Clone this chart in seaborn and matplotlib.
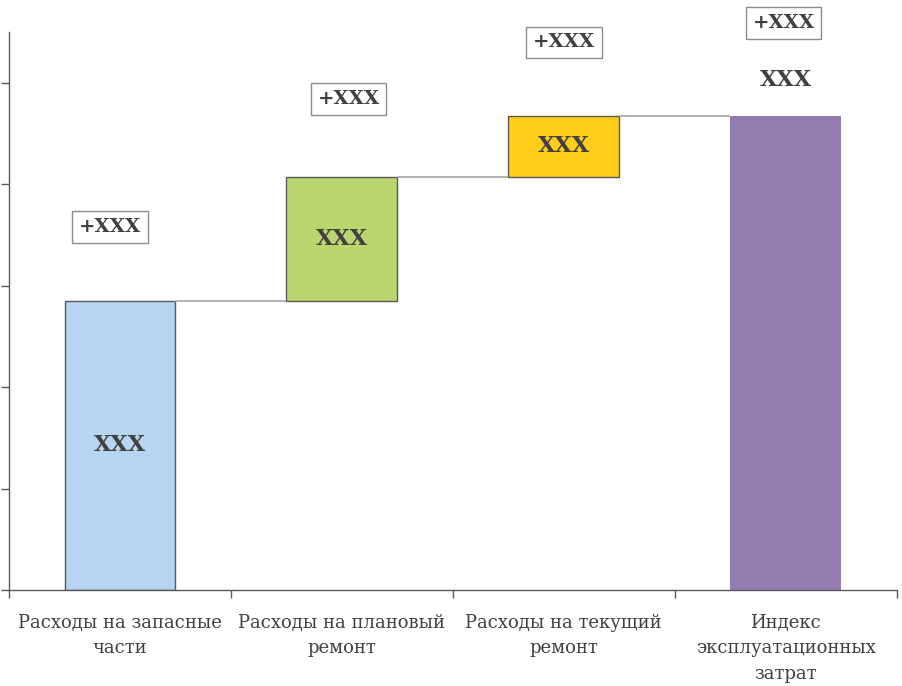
import matplotlib
matplotlib.use("Agg")
import matplotlib.pyplot as plt
import seaborn as sns
import pandas as pd

# categories and values (waterfall)
categories = ["Расходы на запасные\nчасти", "Расходы на плановый\nремонт",
              "Расходы на текущий\nремонт", "Индекс\nэксплуатационных\nзатрат"]
increments = [28.5, 12.25, 6.0, 46.75]
bottoms = [0.0, 28.5, 40.75, 0.0]
bar_labels = ["XXX", "XXX", "XXX", "XXX"]
delta_labels = ["+XXX", "+XXX", "+XXX", "+XXX"]
bar_colors = ["#b7d4f0", "#bcd66f", "#ffcc19", "#947cb0"]

sns.set_style("white")
plt.rcParams["font.family"] = ["DejaVu Serif"]

df = pd.DataFrame({"cat": categories, "val": increments})

fig = plt.figure(figsize=(9.03, 6.86), dpi=100)
ax = fig.add_axes([0.01, 0.14, 0.983, 0.813])

sns.barplot(data=df, x="cat", y="val", color=bar_colors[0], width=0.5,
            bottom=bottoms, edgecolor="#595959", linewidth=1, ax=ax)

for i, p in enumerate(ax.patches):
    p.set_facecolor(bar_colors[i])
    if i == 3:
        p.set_edgecolor("none")

# connector lines
tops = [b + v for b, v in zip(bottoms, increments)]
for i in range(3):
    ax.hlines(tops[i], i + 0.25, i + 0.75, color="#a6a6a6", lw=1.2, zorder=1)

# labels inside bars
lab_y = [bottoms[0] + increments[0] / 2, bottoms[1] + increments[1] / 2,
         bottoms[2] + increments[2] / 2, tops[3] + 3.5]
for i, (t, y) in enumerate(zip(bar_labels, lab_y)):
    ax.text(i, y, t, ha="center", va="center", fontsize=16, fontweight="bold",
            color="#404040")

# delta boxes
box_y = [35.8, 48.4, 54.0, 55.9]
box_dx = [-0.045, 0.03, 0.0, -0.01]
for i, (t, y) in enumerate(zip(delta_labels, box_y)):
    ax.text(i + box_dx[i], y, t, ha="center", va="center", fontsize=14,
            fontweight="bold", color="#404040", clip_on=False,
            bbox=dict(boxstyle="square,pad=0.35", fc="white", ec="#8c8c8c", lw=1))

ax.set_xlim(-0.5, 3.5)
ax.set_ylim(0, 55)
ax.set_yticks([0, 10, 20, 30, 40, 50])
ax.set_yticklabels([])
ax.set_xlabel("")
ax.set_ylabel("")

ax.set_xticks([0, 1, 2, 3])
ax.set_xticklabels(categories, fontsize=13, color="#404040", linespacing=1.55)
ax.set_xticks([-0.5, 0.5, 1.5, 2.5, 3.5], minor=True)
ax.tick_params(axis="x", which="major", length=0, pad=17)
ax.tick_params(axis="x", which="minor", length=6, width=1, color="#595959",
               direction="out", bottom=True)
ax.tick_params(axis="y", which="major", length=6, width=1, color="#595959",
               direction="out", left=True)

for s in ["top", "right"]:
    ax.spines[s].set_visible(False)
for s in ["left", "bottom"]:
    ax.spines[s].set_color("#595959")
    ax.spines[s].set_linewidth(1)

fig.savefig("out.png", dpi=100)
